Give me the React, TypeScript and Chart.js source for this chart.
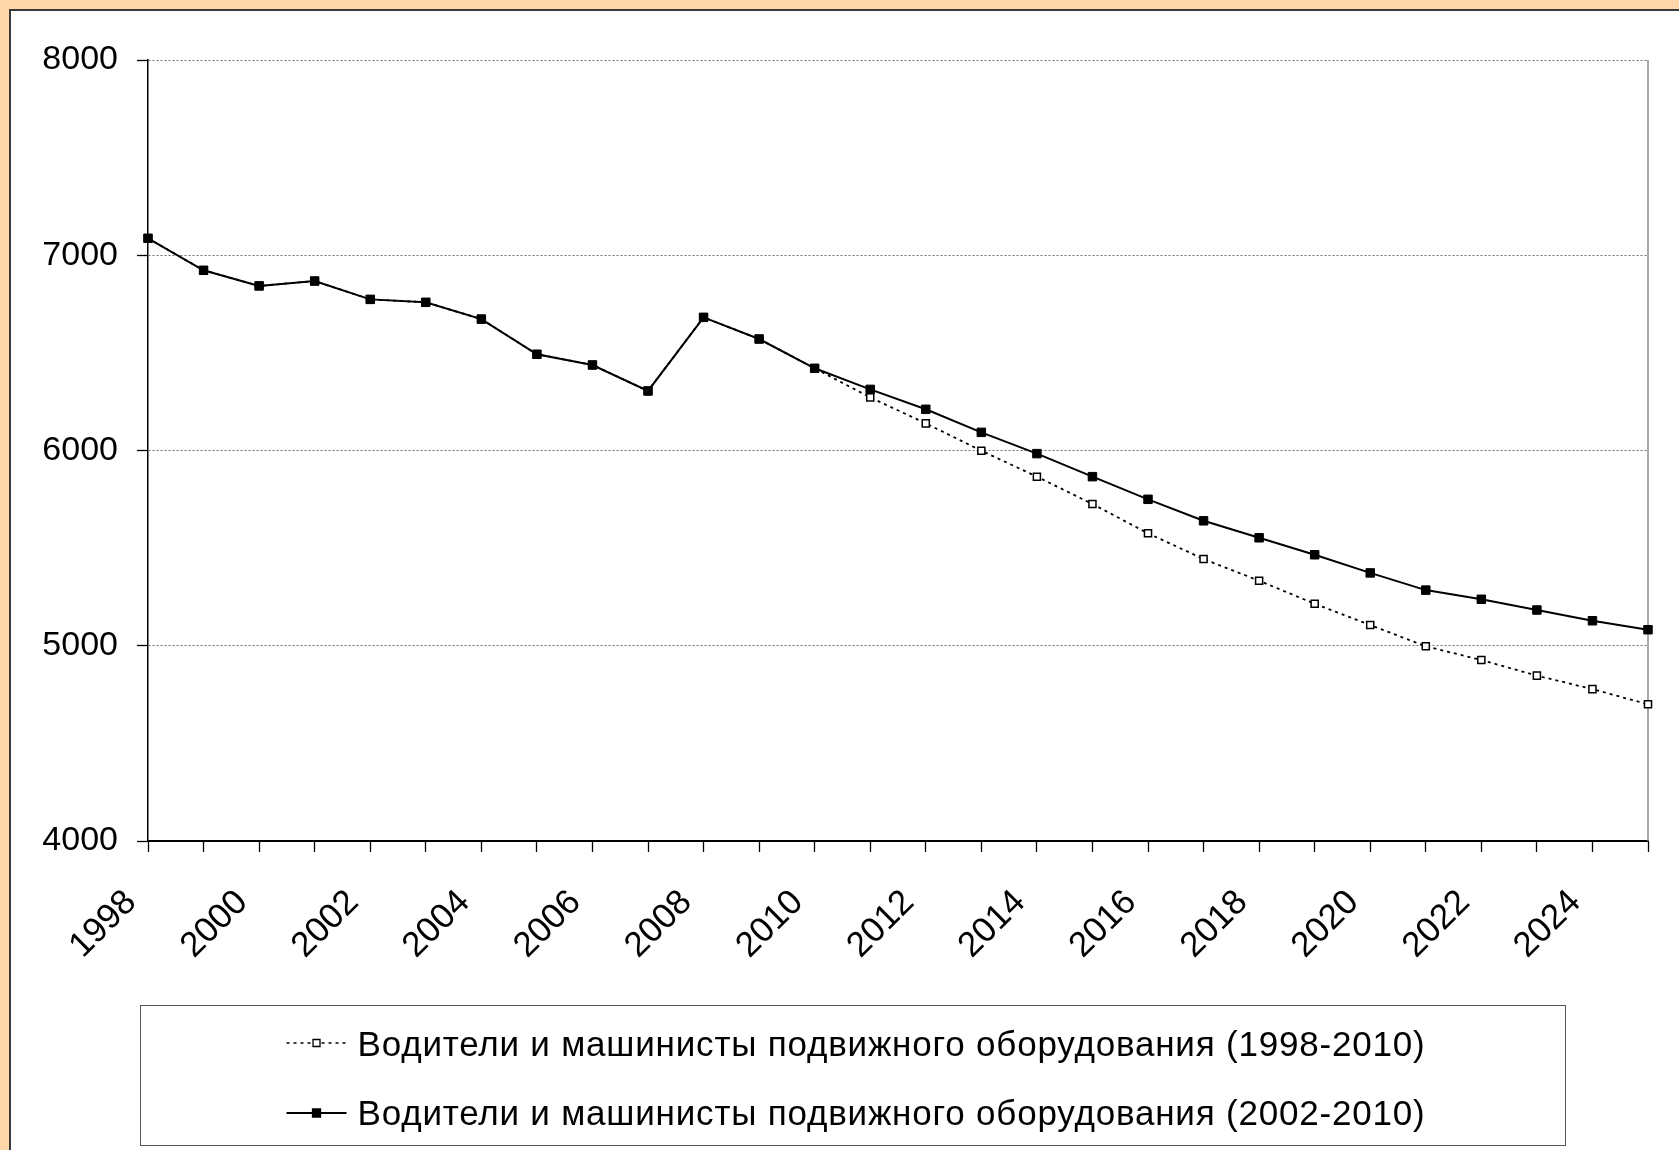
import React, { useEffect, useRef } from 'react';
import { Chart, registerables } from 'chart.js';

Chart.register(...registerables);

const years: string[] = [
  '1998', '1999', '2000', '2001', '2002', '2003', '2004', '2005', '2006', '2007',
  '2008', '2009', '2010', '2011', '2012', '2013', '2014', '2015', '2016', '2017',
  '2018', '2019', '2020', '2021', '2022', '2023', '2024', '2025',
];

// Forecast based on 1998-2010 (dotted line, open squares)
const forecast19982010: number[] = [
  7087, 6923, 6843, 6868, 6774, 6759, 6673, 6493, 6438, 6305,
  6682, 6571, 6421, 6272, 6139, 5999, 5866, 5726, 5576, 5444,
  5333, 5215, 5106, 4997, 4927, 4847, 4778, 4700,
];

// Forecast based on 2002-2010 (solid line, filled squares)
const forecast20022010: number[] = [
  7087, 6923, 6843, 6868, 6774, 6759, 6673, 6493, 6438, 6305,
  6682, 6571, 6421, 6313, 6211, 6093, 5984, 5866, 5750, 5640,
  5553, 5466, 5373, 5285, 5238, 5183, 5128, 5082,
];

const seriesNames: string[] = [
  'Водители и машинисты подвижного оборудования (1998-2010)',
  'Водители и машинисты подвижного оборудования (2002-2010)',
];

const yMin = 4000;
const yMax = 8000;
const yStep = 1000;

const FONT = "'Liberation Sans', Arial, sans-serif";
const ORANGE = 'rgb(255, 214, 167)';

const bgPlugin = {
  id: 'bgPanel',
  beforeDraw(chart: any) {
    const { ctx, width, height } = chart;
    ctx.save();
    ctx.fillStyle = ORANGE;
    ctx.fillRect(0, 0, width, height);
    ctx.fillStyle = '#ffffff';
    ctx.fillRect(10, 10, width - 10, height - 10);
    ctx.strokeStyle = '#3a3a3a';
    ctx.lineWidth = 2;
    ctx.beginPath();
    ctx.moveTo(10, height);
    ctx.lineTo(10, 10);
    ctx.lineTo(width, 10);
    ctx.stroke();
    ctx.restore();
  },
};

const frameRightPlugin = {
  id: 'frameRight',
  beforeDatasetsDraw(chart: any) {
    const { ctx, chartArea } = chart;
    ctx.save();
    ctx.strokeStyle = '#8c8c8c';
    ctx.lineWidth = 1.5;
    ctx.beginPath();
    ctx.moveTo(chartArea.right, chartArea.top);
    ctx.lineTo(chartArea.right, chartArea.bottom);
    ctx.stroke();
    ctx.restore();
  },
};

const boxLegendPlugin = {
  id: 'boxLegend',
  afterDraw(chart: any) {
    const ctx = chart.ctx;
    const box = { x: 140.5, y: 1005.5, w: 1425, h: 140 };
    ctx.save();
    ctx.strokeStyle = '#555555';
    ctx.lineWidth = 1;
    ctx.strokeRect(box.x, box.y, box.w, box.h);

    ctx.font = `35px ${FONT}`;
    try {
      (ctx as any).letterSpacing = '0.8px';
    } catch (e) {
      /* ignore */
    }
    const tw = Math.max(...seriesNames.map((s) => ctx.measureText(s).width));
    const sampleW = 60;
    const gap = 11;
    const startX = box.x + box.w / 2 + 3 - (sampleW + gap + tw) / 2;
    const rows = [
      { lineY: 1043, textY: 1056, dash: [3, 4], lw: 1.6, fill: '#ffffff', side: 7 },
      { lineY: 1113, textY: 1125, dash: [], lw: 2, fill: '#000000', side: 8 },
    ];
    rows.forEach((r, i) => {
      ctx.strokeStyle = '#000';
      ctx.lineWidth = r.lw;
      ctx.setLineDash(r.dash);
      ctx.beginPath();
      ctx.moveTo(startX, r.lineY);
      ctx.lineTo(startX + sampleW, r.lineY);
      ctx.stroke();
      ctx.setLineDash([]);
      const cx = startX + sampleW / 2;
      ctx.fillStyle = r.fill;
      ctx.lineWidth = 1.3;
      ctx.beginPath();
      ctx.rect(cx - r.side / 2, r.lineY - r.side / 2, r.side, r.side);
      ctx.fill();
      ctx.stroke();
      ctx.fillStyle = '#000';
      ctx.textBaseline = 'alphabetic';
      ctx.textAlign = 'left';
      ctx.fillText(seriesNames[i], startX + sampleW + gap, r.textY);
    });
    ctx.restore();
  },
};

export default function App() {
  const canvasRef = useRef<HTMLCanvasElement | null>(null);

  useEffect(() => {
    if (!canvasRef.current) return;
    Chart.defaults.font.family = FONT;
    const chart = new Chart(canvasRef.current, {
      type: 'line',
      data: {
        labels: years,
        datasets: [
          {
            label: seriesNames[1],
            data: forecast20022010,
            borderColor: '#000000',
            borderWidth: 2,
            pointStyle: 'rect',
            pointRadius: 6,
            pointBackgroundColor: '#000000',
            pointBorderColor: '#000000',
            pointBorderWidth: 1,
            tension: 0,
            clip: false as any,
            order: 0,
          },
          {
            label: seriesNames[0],
            data: forecast19982010,
            borderColor: '#000000',
            borderWidth: 1.8,
            borderDash: [3, 4],
            pointStyle: 'rect',
            pointRadius: 5,
            pointBackgroundColor: '#ffffff',
            pointBorderColor: '#000000',
            pointBorderWidth: 1.5,
            tension: 0,
            clip: false as any,
            order: 1,
          },
        ],
      },
      options: {
        responsive: false,
        animation: false,
        layout: { padding: { left: 0, top: 60, right: 31, bottom: 189 } },
        plugins: {
          legend: { display: false },
          tooltip: { enabled: false },
          title: { display: false },
        },
        scales: {
          x: {
            type: 'category',
            offset: false,
            grid: {
              drawOnChartArea: false,
              drawTicks: true,
              tickLength: 11,
              tickColor: '#000000',
              tickWidth: 1.3,
            },
            border: { display: true, color: '#000000', width: 2 },
            ticks: {
              autoSkip: false,
              minRotation: 45,
              maxRotation: 45,
              padding: 30,
              labelOffset: -17,
              color: '#000000',
              font: { size: 35, family: FONT },
              callback: (_v: any, i: number) => (Number(years[i]) % 2 === 0 ? years[i] : ''),
            },
            afterFit: (scale: any) => {
              scale.height = 120;
              scale.paddingLeft = 0;
              scale.paddingRight = 0;
            },
          },
          y: {
            type: 'linear',
            min: yMin,
            max: yMax,
            grid: {
              color: '#6e6e6e',
              lineWidth: 1,
              drawTicks: true,
              tickLength: 11,
              tickColor: '#000000',
              tickWidth: 1.3,
            },
            border: { display: true, color: '#000000', width: 1.5, dash: [2, 2] },
            ticks: {
              stepSize: yStep,
              padding: 19,
              color: '#000000',
              font: { size: 34, family: FONT },
              callback: (v: any) => String(v),
            },
            afterFit: (scale: any) => {
              scale.width = 148;
              scale.paddingTop = 0;
              scale.paddingBottom = 0;
            },
          },
        },
      },
      plugins: [bgPlugin, frameRightPlugin, boxLegendPlugin],
    });
    return () => chart.destroy();
  }, []);

  return (
    <div style={{ position: 'absolute', left: 0, top: 0, width: 1679, height: 1150, overflow: 'hidden' }}>
      <canvas ref={canvasRef} width={1679} height={1150} style={{ width: 1679, height: 1150, display: 'block' }} />
    </div>
  );
}
